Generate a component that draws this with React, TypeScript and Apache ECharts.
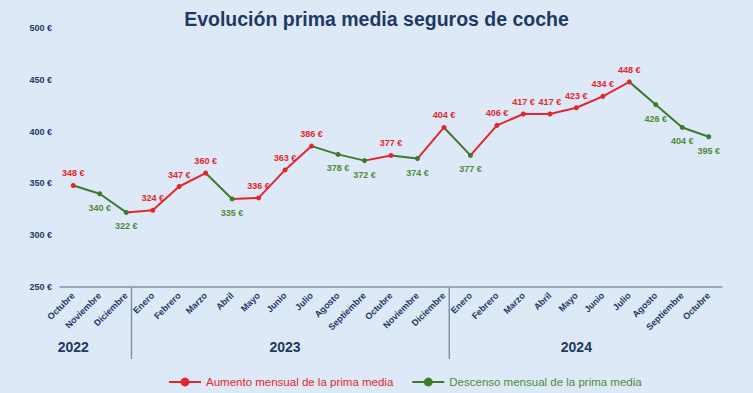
import React, { useEffect, useRef } from "react";
import * as echarts from "echarts";

const months = [
  "Octubre", "Noviembre", "Diciembre",
  "Enero", "Febrero", "Marzo", "Abril", "Mayo", "Junio", "Julio", "Agosto", "Septiembre", "Octubre", "Noviembre", "Diciembre",
  "Enero", "Febrero", "Marzo", "Abril", "Mayo", "Junio", "Julio", "Agosto", "Septiembre", "Octubre",
];
const primas = [
  348, 340, 322,
  324, 347, 360, 335, 336, 363, 386, 378, 372, 377, 374, 404,
  377, 406, 417, 417, 423, 434, 448, 426, 404, 395,
];
const years = ["2022", "2023", "2024"];
const yearLabelIndex = [0, 8, 19];
const yearGroupEnd = [2, 14];
const yTicks = [250, 300, 350, 400, 450, 500];
const seriesNames = ["Aumento mensual de la prima media", "Descenso mensual de la prima media"];

const RED = "#e3262d";
const GREEN = "#3d7a2a";
const GREEN_TXT = "#4f8a3b";
const BLUE = "#1f3864";
const FONT = "Liberation Sans, Arial, sans-serif";

export default function App() {
  const ref = useRef<HTMLDivElement>(null);
  useEffect(() => {
    document.body.style.margin = "0";
    if (!ref.current) return;
    const chart = echarts.init(ref.current, null, { renderer: "svg" });
    const up = primas.map((v, i) => i === 0 || v >= primas[i - 1]);
    const pieces = primas.map((_, i) =>
      i === 0
        ? { lte: 0, color: RED }
        : { gt: i - 1, lte: i, color: up[i] ? RED : GREEN }
    );
    const data = primas.map((v, i) => ({
      value: v,
      label: up[i]
        ? { position: "top", color: RED, distance: 5 }
        : { position: "bottom", color: GREEN_TXT, distance: 7 },
    }));
    const yearAt: Record<number, string> = {};
    yearLabelIndex.forEach((idx, k) => (yearAt[idx] = years[k]));

    chart.setOption({
      animation: false,
      backgroundColor: "#dde9f6",
      textStyle: { fontFamily: FONT },
      title: {
        text: "Evolución prima media seguros de coche",
        left: "center",
        top: 4,
        textStyle: { fontSize: 19.5, fontWeight: "bold", color: BLUE, fontFamily: FONT },
      },
      grid: { left: 60, right: 31, top: 28, bottom: 106, containLabel: false },
      legend: {
        left: 163,
        bottom: 0,
        itemWidth: 32,
        itemHeight: 11,
        itemGap: 18,
        data: [
          { name: seriesNames[0], textStyle: { color: RED } },
          { name: seriesNames[1], textStyle: { color: GREEN_TXT } },
        ],
        textStyle: { fontSize: 11.5, fontFamily: FONT },
      },
      visualMap: {
        show: false,
        type: "piecewise",
        dimension: 0,
        seriesIndex: 0,
        pieces,
      },
      xAxis: [
        {
          type: "category",
          data: months,
          boundaryGap: true,
          axisLine: { show: true, lineStyle: { color: "#7f93ad", width: 1.5 } },
          axisTick: { show: false },
          axisLabel: {
            interval: 0,
            rotate: 45,
            margin: 7,
            color: BLUE,
            fontSize: 9,
            fontWeight: "bold",
            fontFamily: FONT,
          },
        },
        {
          type: "category",
          data: months,
          position: "bottom",
          boundaryGap: true,
          axisLine: { show: false },
          axisTick: { show: false },
          axisLabel: {
            interval: 0,
            margin: 53,
            color: BLUE,
            fontSize: 14,
            fontWeight: "bold",
            fontFamily: FONT,
            formatter: (_v: string, idx: number) => yearAt[idx] || "",
          },
        },
      ],
      yAxis: {
        type: "value",
        min: yTicks[0],
        max: yTicks[yTicks.length - 1],
        interval: 50,
        splitLine: { show: false },
        axisLine: { show: false },
        axisTick: { show: false },
        axisLabel: {
          margin: 8,
          color: BLUE,
          fontSize: 9,
          fontWeight: "bold",
          fontFamily: FONT,
          formatter: "{value} €",
        },
      },
      series: [
        {
          name: seriesNames[0],
          type: "line",
          data,
          color: RED,
          symbol: "circle",
          symbolSize: 5,
          lineStyle: { width: 2 },
          label: {
            show: true,
            fontSize: 9,
            fontWeight: "bold",
            fontFamily: FONT,
            formatter: "{c} €",
          },
        },
        {
          name: seriesNames[1],
          type: "line",
          data: primas.map(() => null),
          color: GREEN,
          symbol: "circle",
          symbolSize: 5,
          lineStyle: { width: 2 },
        },
      ],
    });

    const yBottom = chart.convertToPixel({ yAxisIndex: 0 }, yTicks[0]) as number;
    const lines = yearGroupEnd.map((idx) => {
      const a = chart.convertToPixel({ xAxisIndex: 0 }, idx) as number;
      const b = chart.convertToPixel({ xAxisIndex: 0 }, idx + 1) as number;
      const x = a + (b - a) * 0.2;
      return {
        type: "line",
        shape: { x1: x, y1: yBottom, x2: x, y2: yBottom + 72 },
        style: { stroke: "#7f93ad", lineWidth: 1.5 },
      };
    });
    chart.setOption({ graphic: lines });

    return () => chart.dispose();
  }, []);
  return <div ref={ref} style={{ width: 753, height: 393 }} />;
}
